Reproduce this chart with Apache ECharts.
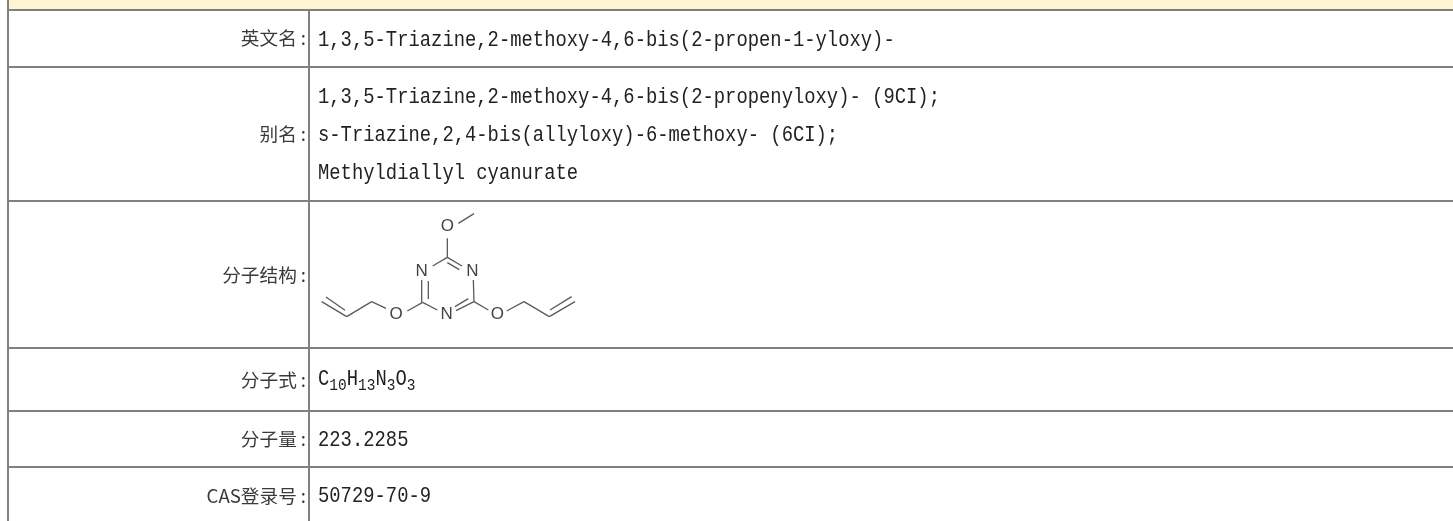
<!DOCTYPE html>
<html><head><meta charset="utf-8">
<style>html,body{margin:0;padding:0;background:#fff}#c{width:1453px;height:521px}</style>
<script src="https://cdn.jsdelivr.net/npm/echarts@6/dist/echarts.min.js"></script>
</head><body><div id="c"></div>
<script>
// Table content
const rowLabels = ['英文名', '别名', '分子结构', '分子式', '分子量', 'CAS登录号'];
const englishName = ['1,3,5-Triazine,2-methoxy-4,6-bis(2-propen-1-yloxy)-'];
const aliases = ['1,3,5-Triazine,2-methoxy-4,6-bis(2-propenyloxy)- (9CI);', 's-Triazine,2,4-bis(allyloxy)-6-methoxy- (6CI);', 'Methyldiallyl cyanurate'];
const formulaParts = [['C', '10'], ['H', '13'], ['N', '3'], ['O', '3']];
const molWeight = ['223.2285'];
const casNumber = ['50729-70-9'];
// Molecule drawing (in molecule units)
const singleBonds = [[475,85,522,56],[442,130,442,187],[442,187,398,213],[365,255,365,322],[368,322,412,345],[468,347,522,320],[520,255,522,320],[368,322,322,348],[258,340,215,320],[215,320,140,365],[140,365,65,320],[522,320,565,345],[620,348,672,320],[672,320,748,365],[748,365,825,320],[442,187,486,213]];
const innerBonds = [[442,203,478,224],[385,258,385,312],[465,335,505,311],[135,346,78,306],[750,345,815,305]];
const atomLabels = [['O',442,95],['N',365,228],['N',517,228],['N',440,358],['O',288,358],['O',592,358]];

const W = 1453, H = 521;
const RULE = '#808080';
const rowLines = [10, 67, 201, 348, 411, 467];
const colLines = [8, 309];
const labelRight = 306, valueLeft = 318;
const monoFont = '"Liberation Mono", monospace';
const cjkFont = '"Noto Sans CJK SC", sans-serif';
const MONO_SIZE = 18.85, SUB_SIZE = 14.5, LABEL_SIZE = 18.67, STRETCH = 1.2;

const textRows = [
  [englishName, [40]],
  [aliases, [97, 135, 173]],
  [[], []],
  [[], []],
  [molWeight, [440]],
  [casNumber, [496]]
];
const labelY = [38, 134, 275, 380, 439, 496];

const chart = echarts.init(document.getElementById('c'), null, {renderer: 'canvas'});

function tableRender(params, api) {
  const p = (x, y) => api.coord([x, y]);
  const c = [];
  c.push({type: 'rect', shape: {x: 8, y: 0, width: W - 8, height: 10}, style: {fill: '#FFF3D2'}});
  rowLines.forEach(y => { const s = p(8, y), e = p(W, y); c.push({type: 'rect', shape: {x: s[0] - 1, y: s[1] - 1, width: e[0] - s[0] + 1, height: 2}, style: {fill: RULE}}); });
  c.push({type: 'rect', shape: {x: colLines[0] - 1, y: 0, width: 2, height: H}, style: {fill: RULE}});
  c.push({type: 'rect', shape: {x: colLines[1] - 1, y: 10, width: 2, height: H - 10}, style: {fill: RULE}});
  return {type: 'group', children: c};
}

const valueItems = [];
rowLabels.forEach((t, i) => {
  textRows[i][0].forEach((s, j) => valueItems.push({text: s, y: textRows[i][1][j]}));
});
const formulaRich = formulaParts.map(([a, b]) => '{m|' + a + '}{s|' + b + '}').join('');

chart.setOption({
  animation: false,
  backgroundColor: '#fff',
  grid: [
    {left: 0, top: 0, width: W, height: H, show: false},
    {left: 300, top: 195, width: 300, height: 150, show: false}
  ],
  xAxis: [
    {type: 'value', gridIndex: 0, min: 0, max: W, show: false},
    {type: 'value', gridIndex: 1, min: 0, max: 900, show: false}
  ],
  yAxis: [
    {type: 'value', gridIndex: 0, min: 0, max: H, inverse: true, show: false},
    {type: 'value', gridIndex: 1, min: 0, max: 450, inverse: true, show: false}
  ],
  series: [
    {type: 'custom', xAxisIndex: 0, yAxisIndex: 0, silent: true, data: [[0]], renderItem: tableRender, z: 1},
    // row labels
    {type: 'custom', xAxisIndex: 0, yAxisIndex: 0, silent: true, z: 3,
      data: rowLabels.map((t, i) => [i]),
      renderItem: (params, api) => {
        const i = api.value(0);
        const c = api.coord([labelRight, labelY[i]]);
        return {type: 'text', x: c[0], y: c[1], style: {text: '{t|' + rowLabels[i] + '}{d|:}', x: 0, y: 0, textAlign: 'right', textVerticalAlign: 'middle',
          rich: {
            t: {font: LABEL_SIZE + 'px ' + cjkFont, fill: '#3a3a3a'},
            d: {font: LABEL_SIZE + 'px ' + cjkFont, fill: '#3a3a3a', padding: [0, 0, 0, 4]}
          }}};
      }},
    // value lines
    {type: 'custom', xAxisIndex: 0, yAxisIndex: 0, silent: true, z: 3,
      data: valueItems.map((t, i) => [i]),
      renderItem: (params, api) => {
        const t = valueItems[api.value(0)];
        const c = api.coord([valueLeft, t.y]);
        return {type: 'text', x: c[0], y: c[1], scaleY: STRETCH, style: {text: t.text, x: 0, y: 0, textAlign: 'left', textVerticalAlign: 'middle', font: MONO_SIZE + 'px ' + monoFont, fill: '#222'}};
      }},
    // formula
    {type: 'custom', xAxisIndex: 0, yAxisIndex: 0, silent: true, z: 3, data: [[0]],
      renderItem: (params, api) => {
        const c = api.coord([valueLeft, 381]);
        return {type: 'text', x: c[0], y: c[1], scaleY: STRETCH, style: {text: formulaRich, x: 0, y: 0, textAlign: 'left', textVerticalAlign: 'middle',
          rich: {
            m: {font: MONO_SIZE + 'px ' + monoFont, fill: '#222', lineHeight: 16, padding: [0, 0, 3, 0]},
            s: {font: SUB_SIZE + 'px ' + monoFont, fill: '#222', lineHeight: 12, padding: [7, 0, 0, 0]}
          }}};
      }},
    // molecule bonds
    {type: 'custom', xAxisIndex: 1, yAxisIndex: 1, silent: true, z: 2,
      data: singleBonds.concat(innerBonds),
      encode: {x: [0, 2], y: [1, 3]},
      renderItem: (params, api) => {
        const a = api.coord([api.value(0), api.value(1)]), b = api.coord([api.value(2), api.value(3)]);
        return {type: 'line', shape: {x1: a[0], y1: a[1], x2: b[0], y2: b[1]}, style: {stroke: '#5a5a5a', lineWidth: 1.3}};
      }},
    // molecule atoms
    {type: 'custom', xAxisIndex: 1, yAxisIndex: 1, silent: true, z: 3,
      data: atomLabels.map(a => [a[1], a[2]]),
      renderItem: (params, api) => {
        const c = api.coord([api.value(0), api.value(1)]);
        return {type: 'text', style: {text: atomLabels[params.dataIndex][0], x: c[0], y: c[1], textAlign: 'center', textVerticalAlign: 'middle', font: '17px "Liberation Sans", sans-serif', fill: '#444'}};
      }}
  ]
});
</script></body></html>
